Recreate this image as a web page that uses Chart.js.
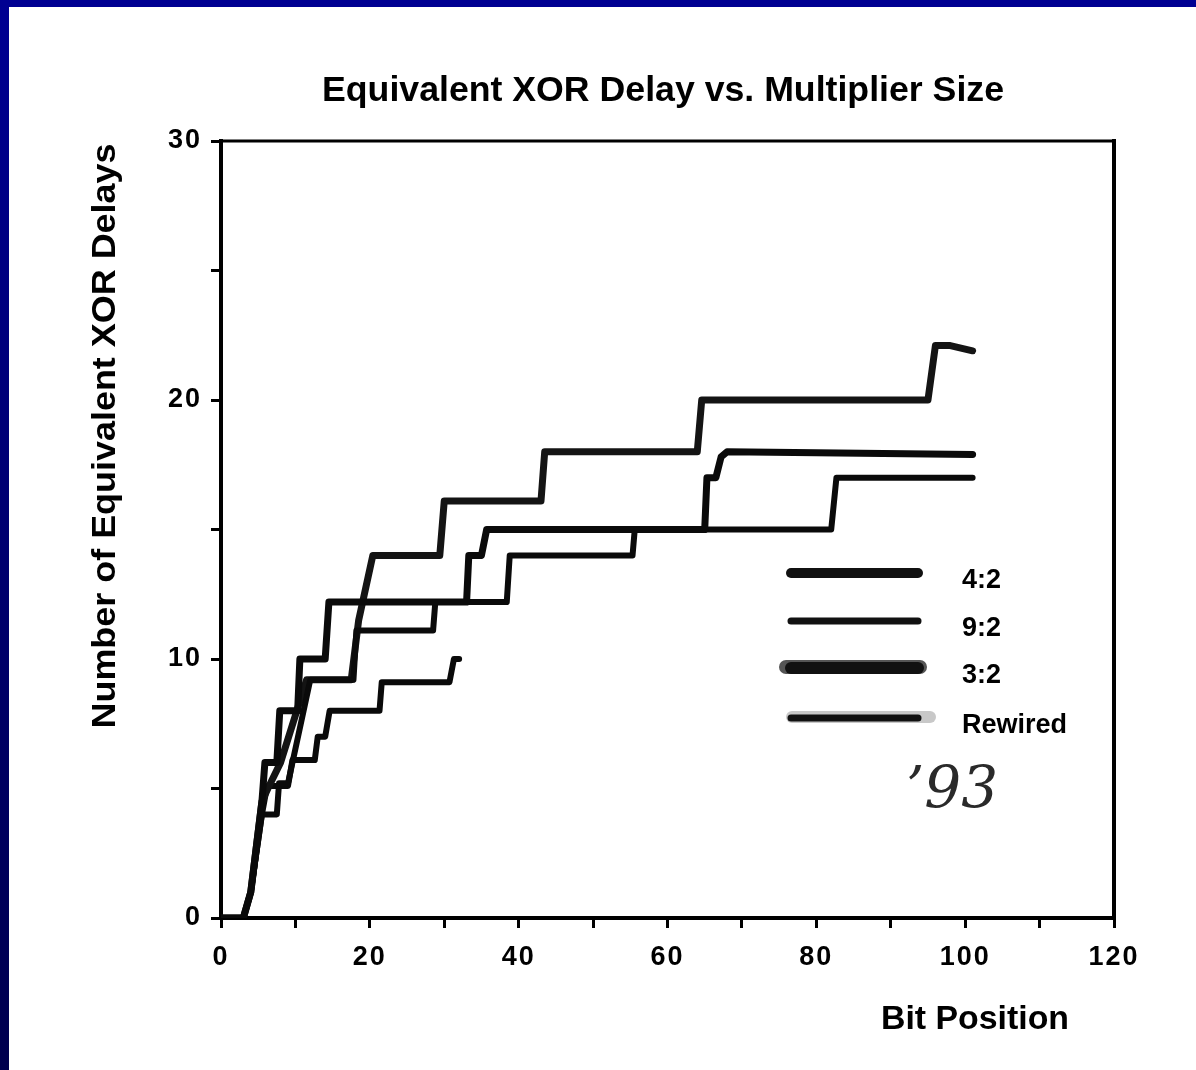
<!DOCTYPE html>
<html>
<head>
<meta charset="utf-8">
<script src="https://cdn.jsdelivr.net/npm/chart.js@4/dist/chart.umd.min.js"></script>
<style>
  html, body { margin: 0; padding: 0; background: #fff; }
  canvas { display: block; }
</style>
</head>
<body>
<canvas id="myChart" width="1196" height="1070"></canvas>
<script>
// values (bit position vs. equivalent XOR delays)
var seriesNames = ["4:2", "9:2", "3:2", "Rewired"];

var bits42  = [0, 3, 4, 5.5, 5.9, 7.5, 7.9, 10.3, 10.6, 14, 14.5, 33, 33.3, 35, 35.7, 65, 65.3, 66.5, 67.2, 68, 101];
var delay42 = [0, 0, 1, 4.5, 6, 6, 8, 8, 10, 10, 12.2, 12.2, 14, 14, 15, 15, 17, 17, 17.8, 18, 17.9];

var bits92  = [0, 3, 4, 5.5, 7.5, 7.8, 9, 12, 17.8, 18.2, 28.5, 28.8, 38.4, 38.8, 55.3, 55.6, 82, 82.7, 101];
var delay92 = [0, 0, 1, 4, 4, 5.2, 5.2, 9.2, 9.2, 11.1, 11.1, 12.2, 12.2, 14, 14, 15, 15, 17, 17];

var bits32  = [0, 3, 4, 5.5, 6.3, 8, 11.5, 17.5, 18.5, 20.4, 29.4, 30, 43, 43.5, 64, 64.6, 95, 96, 98, 101];
var delay32 = [0, 0, 1, 4.5, 5, 6, 9.2, 9.2, 11.5, 14, 14, 16.1, 16.1, 18, 18, 20, 20, 22.1, 22.1, 21.9];

var bitsRw  = [0, 3, 4, 5.5, 6.2, 9, 9.6, 12.6, 13, 14, 14.6, 21.3, 21.6, 30.7, 31.3, 32];
var delayRw = [0, 0, 1, 4, 5.1, 5.1, 6.1, 6.1, 7, 7, 8, 8, 9.1, 9.1, 10, 10];

var xTicks = [0, 20, 40, 60, 80, 100, 120];
var yTicks = [0, 10, 20, 30];

function pts(xs, ys) {
  return xs.map(function (x, i) { return {x: x, y: ys[i]}; });
}

function fitText(ctx, text, x, y, w, font, rot) {
  ctx.save();
  ctx.font = font;
  ctx.translate(x, y);
  if (rot) ctx.rotate(rot);
  var m = ctx.measureText(text).width;
  ctx.scale(w / m, 1);
  ctx.textAlign = "center";
  ctx.textBaseline = "middle";
  ctx.fillStyle = "#000";
  ctx.fillText(text, 0, 0);
  ctx.restore();
}

// page background, frame, titles, legend and the handwritten note
var decor = {
  id: "decor",
  beforeDraw: function (chart) {
    var ctx = chart.ctx;
    ctx.save();
    ctx.fillStyle = "#fff";
    ctx.fillRect(0, 0, chart.width, chart.height);
    var g = ctx.createLinearGradient(0, 0, 0, chart.height);
    g.addColorStop(0, "#000092");
    g.addColorStop(1, "#00004e");
    ctx.fillStyle = g;
    ctx.fillRect(0, 0, chart.width, 7);
    ctx.fillRect(0, 0, 9, chart.height);
    ctx.restore();
    ctx.letterSpacing = "2px";
  },
  beforeDatasetsDraw: function (chart) {
    chart.ctx.letterSpacing = "0px";
  },
  afterDraw: function (chart) {
    var ctx = chart.ctx;
    var a = chart.chartArea;
    ctx.save();
    ctx.strokeStyle = "#000";
    ctx.lineCap = "square";
    ctx.lineWidth = 3;
    ctx.beginPath();
    ctx.moveTo(a.left, a.top);
    ctx.lineTo(a.right, a.top);
    ctx.stroke();
    ctx.lineWidth = 4;
    ctx.beginPath();
    ctx.moveTo(a.right, a.top);
    ctx.lineTo(a.right, a.bottom);
    ctx.stroke();
    ctx.restore();

    fitText(ctx, "Equivalent XOR Delay vs. Multiplier Size", 663, 91, 682, "bold 35px 'Liberation Sans'");
    fitText(ctx, "Number of Equivalent XOR Delays", 106, 436, 585, "bold 33px 'Liberation Sans'", -Math.PI / 2);
    fitText(ctx, "Bit Position", 975, 1020, 188, "bold 33px 'Liberation Sans'");

    // legend
    var rows = [573, 621, 668, 718];
    var widths = [10, 7, 12, 7];
    ctx.save();
    chart.data.datasets.forEach(function (ds, i) {
      var y = rows[i];
      if (ds.label === "3:2") {
        ctx.strokeStyle = "#555";
        ctx.lineWidth = widths[i] + 2;
        ctx.lineCap = "round";
        ctx.beginPath(); ctx.moveTo(786, y - 1); ctx.lineTo(920, y - 1); ctx.stroke();
      }
      if (ds.label === "Rewired") {
        ctx.strokeStyle = "#c8c8c8";
        ctx.lineWidth = 12;
        ctx.lineCap = "round";
        ctx.beginPath(); ctx.moveTo(792, y - 1); ctx.lineTo(930, y - 1); ctx.stroke();
      }
      ctx.strokeStyle = "#111";
      ctx.lineWidth = widths[i];
      ctx.lineCap = "round";
      ctx.beginPath(); ctx.moveTo(791, y); ctx.lineTo(918, y); ctx.stroke();
      ctx.fillStyle = "#000";
      ctx.font = "bold 27px 'Liberation Sans'";
      ctx.textBaseline = "middle";
      ctx.textAlign = "left";
      ctx.fillText(ds.label, 962, y + 8);
    });
    ctx.font = "italic 58px 'DejaVu Serif'";
    ctx.fillStyle = "#2a2a2a";
    ctx.textAlign = "center";
    ctx.fillText("\u201993", 952, 792);
    ctx.restore();
  }
};

function makeSet(label, xs, ys, width, color) {
  return {
    label: label,
    data: pts(xs, ys),
    showLine: true,
    borderColor: color,
    borderWidth: width,
    pointRadius: 0,
    tension: 0,
    borderJoinStyle: "round",
    borderCapStyle: "round",
    fill: false
  };
}

new Chart("myChart", {
  type: "scatter",
  data: {
    datasets: [
      makeSet(seriesNames[0], bits42, delay42, 7, "#0a0a0a"),
      makeSet(seriesNames[1], bits92, delay92, 6, "#0a0a0a"),
      makeSet(seriesNames[2], bits32, delay32, 7, "#141414"),
      makeSet(seriesNames[3], bitsRw, delayRw, 6, "#0a0a0a")
    ]
  },
  options: {
    responsive: false,
    animation: false,
    layout: {padding: {left: 161, right: 82, top: 141, bottom: 92}},
    plugins: {
      legend: {display: false},
      title: {display: false},
      tooltip: {enabled: false}
    },
    scales: {
      x: {
        type: "linear",
        min: 0,
        max: 120,
        afterFit: function (s) { s.height = 60; },
        afterBuildTicks: function (s) {
          var t = [];
          for (var v = 0; v <= 120; v += 10) t.push({value: v});
          s.ticks = t;
        },
        ticks: {
          autoSkip: false,
          maxRotation: 0,
          color: "#000",
          padding: 13,
          font: {family: "'Liberation Sans'", size: 27, weight: "bold"},
          callback: function (v) { return xTicks.indexOf(v) >= 0 ? String(v) : ""; }
        },
        grid: {drawOnChartArea: false, tickLength: 10, tickWidth: 3, color: "#000"},
        border: {display: true, width: 4, color: "#000"}
      },
      y: {
        type: "linear",
        min: 0,
        max: 30,
        afterFit: function (s) { s.width = 60; },
        afterBuildTicks: function (s) {
          var t = [];
          for (var v = 0; v <= 30; v += 5) t.push({value: v});
          s.ticks = t;
        },
        ticks: {
          autoSkip: false,
          color: "#000",
          padding: 9,
          font: {family: "'Liberation Sans'", size: 27, weight: "bold"},
          callback: function (v) { return yTicks.indexOf(v) >= 0 ? String(v) : ""; }
        },
        grid: {drawOnChartArea: false, tickLength: 10, tickWidth: 3, color: "#000"},
        border: {display: true, width: 4, color: "#000"}
      }
    }
  },
  plugins: [decor]
});
</script>
</body>
</html>
